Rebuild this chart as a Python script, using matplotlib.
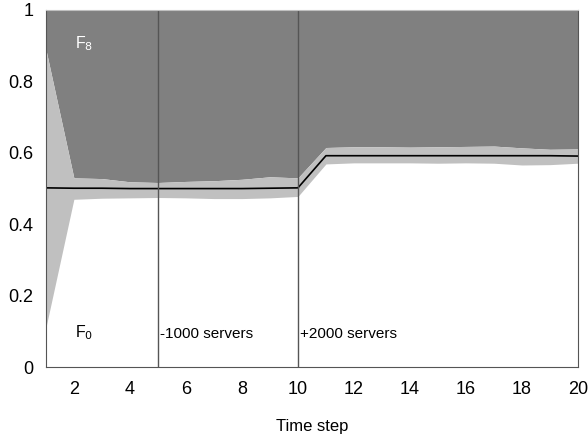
import numpy as np
import matplotlib
matplotlib.use("Agg")
import matplotlib.pyplot as plt

plt.rcParams["font.family"] = ["Liberation Sans", "DejaVu Sans"]

# ---------- 数据 ----------
steps = np.arange(1, 21)
lower = [0.11, 0.47, 0.473, 0.474, 0.475, 0.474, 0.472, 0.472, 0.474, 0.478,
         0.569, 0.572, 0.572, 0.572, 0.571, 0.572, 0.571, 0.566, 0.567, 0.571]
upper = [0.89, 0.53, 0.528, 0.519, 0.517, 0.52, 0.522, 0.526, 0.533, 0.53,
         0.615, 0.617, 0.617, 0.616, 0.617, 0.618, 0.619, 0.614, 0.61, 0.611]
mean = [0.502, 0.501, 0.501, 0.5, 0.5, 0.5, 0.5, 0.5, 0.501, 0.502,
        0.592, 0.592, 0.592, 0.592, 0.592, 0.592, 0.592, 0.592, 0.592, 0.591]
events = [5, 10]
event_labels = ["-1000 servers", "+2000 servers"]

# ---------- 配色 ----------
C = {"dark": "#808080", "light": "#c0c0c0", "ink": "#000000", "axis": "#555555"}

fig = plt.figure(figsize=(5.88, 4.34), dpi=100)
ax = fig.add_axes([0.078, 0.154, 0.905, 0.823])

ax.fill_between(steps, upper, 1.0, color=C["dark"], lw=0)
ax.fill_between(steps, lower, upper, color=C["light"], lw=0)
ax.plot(steps, mean, color=C["ink"], lw=1.2)

for e in events:
    ax.axvline(e, color=C["axis"], lw=1.0)

ax.text(2.04, 0.893, "F$_8$", color="white", fontsize=11.5, va="baseline")
ax.text(2.04, 0.084, "F$_0$", color="black", fontsize=11.5, va="baseline")
for e, lab in zip(events, event_labels):
    ax.text(e + 0.08, 0.081, lab, fontsize=11, va="baseline")

ax.set_xlim(1, 20)
ax.set_ylim(0, 1)
ax.set_xticks(np.arange(2, 21, 2))
ax.set_yticks([0, 0.2, 0.4, 0.6, 0.8, 1])
ax.set_yticklabels(["0", "0.2", "0.4", "0.6", "0.8", "1"])
ax.tick_params(length=0, labelsize=13)
ax.tick_params(axis="x", pad=10)
ax.tick_params(axis="y", pad=9)
ax.set_xlabel("Time step", fontsize=12, labelpad=15)

for s in ["left", "bottom", "right"]:
    ax.spines[s].set_color(C["axis"])
ax.spines["top"].set_color(C["light"])

fig.savefig("out.png", dpi=100)
